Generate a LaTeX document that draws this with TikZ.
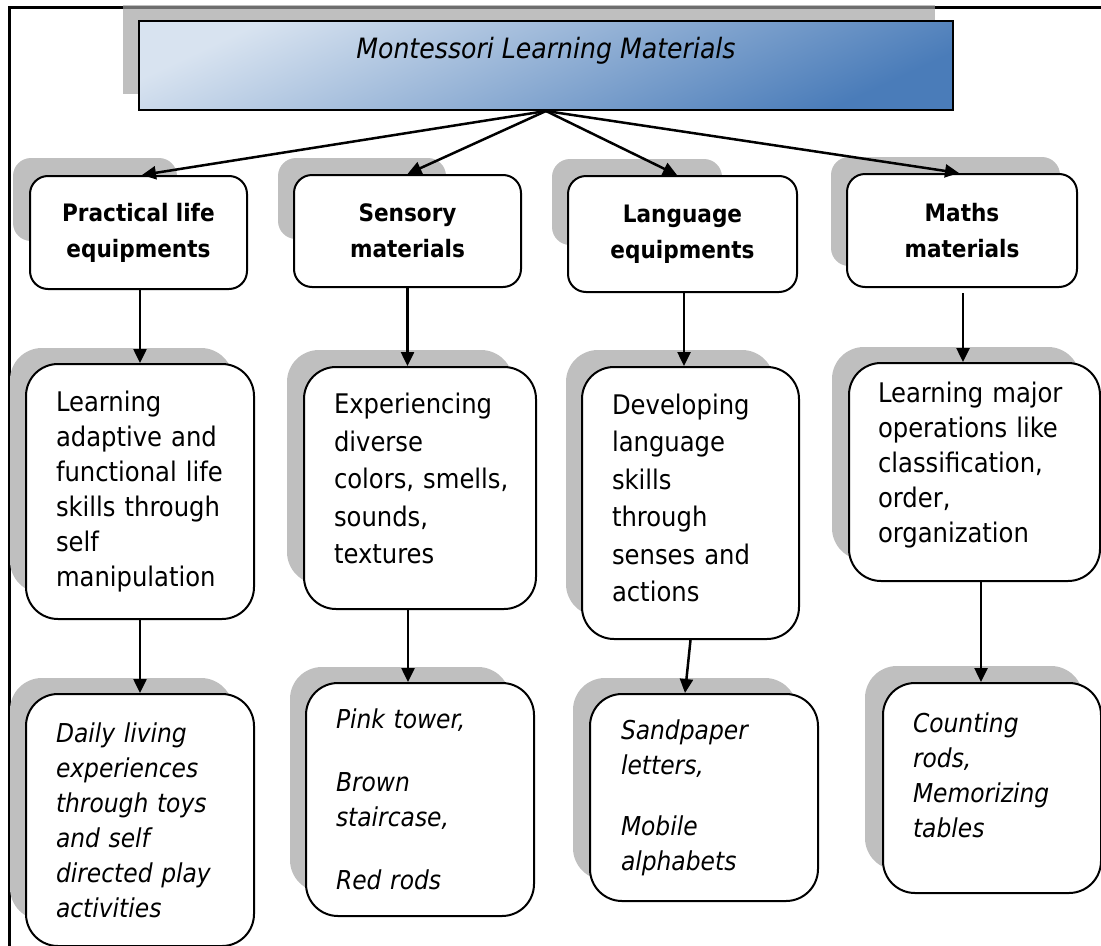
\documentclass[tikz,border=0pt]{standalone}
\usepackage{fontspec}
\setmainfont{DejaVuSansCondensed}[Extension=.ttf, BoldFont=DejaVuSansCondensed-Bold, ItalicFont=DejaVuSansCondensed-Oblique, BoldItalicFont=DejaVuSansCondensed-BoldOblique]
\usetikzlibrary{arrows.meta}
\definecolor{shadowgray}{HTML}{BFBFBF}
\definecolor{framegray}{HTML}{6E6E6E}
\definecolor{titlelight}{HTML}{D8E3F0}
\definecolor{titledark}{HTML}{4A7CB9}
\tikzset{
  shadowbox/.style={fill=shadowgray},
  headbox/.style={draw=black, line width=2bp, fill=white, rounded corners=18bp, anchor=north west,
    align=center, inner sep=0pt, font=\bfseries\fontsize{24bp}{36bp}\selectfont},
  descbox/.style={draw=black, line width=2bp, fill=white, rounded corners=32bp, anchor=north west,
    align=left, inner ysep=0pt, inner xsep=30bp, font=\fontsize{27bp}{35bp}\selectfont},
  exbox/.style={descbox, font=\itshape\fontsize{26bp}{35bp}\selectfont},
  titlebox/.style={draw=black, line width=2bp, anchor=north west, inner sep=0pt,
    top color=titlelight, bottom color=titledark, shading angle=25,
    text height=21bp, text depth=36bp,
    font=\itshape\fontsize{28bp}{30bp}\selectfont},
  arr/.style={line width=2.5bp, -{Triangle[length=14bp,width=13bp]}},
  framestroke/.style={line width=3.5bp},
}
\begin{document}
\begin{tikzpicture}[x=1bp, y=-1bp]
\useasboundingbox (0,0) rectangle (1101,946);
% frame
\draw[framestroke] (9.5,946) -- (9.5,7.5) -- (1101,7.5);
% title
\fill[shadowbox] (123,5) rectangle (935,94);
\draw[framestroke, framegray] (123,7.5) -- (935,7.5);
\node[titlebox, minimum width=814bp, minimum height=89bp] (T) at (138,20) {Montessori Learning Materials};
% header shadows
\fill[shadowbox, rounded corners=18bp] (13,158) rectangle (177,241);
\fill[shadowbox, rounded corners=18bp] (278,158) rectangle (446,239);
\fill[shadowbox, rounded corners=18bp] (552,159) rectangle (722,245);
\fill[shadowbox, rounded corners=18bp] (831,157) rectangle (1060,266);
% headers
\node[headbox, minimum width=217bp, minimum height=113bp] (H1) at (29,175) {Practical life\\equipments};
\node[headbox, minimum width=227bp, minimum height=112bp] (H2) at (293,174) {Sensory\\materials};
\node[headbox, minimum width=229bp, minimum height=116bp] (H3) at (567,175) {Language\\equipments};
\node[headbox, minimum width=230bp, minimum height=113bp] (H4) at (846,173) {Maths\\materials};
% level 2 shadows
\fill[shadowbox, rounded corners=32bp] (10,348) rectangle (233,593);
\fill[shadowbox, rounded corners=32bp] (287,350) rectangle (513,584);
\fill[shadowbox, rounded corners=32bp] (566,350) rectangle (774,616);
\fill[shadowbox, rounded corners=32bp] (832,347) rectangle (1080,560);
% level 2
\node[descbox, text width=168bp, minimum height=255bp] (D1) at (25,363)
  {Learning\\adaptive~and\\functional~life\\skills~through\\self\\manipulation};
\node[descbox, text width=172bp, minimum height=242bp, font=\fontsize{27bp}{37.5bp}\selectfont] (D2) at (303,366)
  {Experiencing\\diverse\\colors,~smells,\\sounds,\\textures\\[-18bp]\mbox{}};
\node[descbox, text width=157bp, minimum height=272bp, font=\fontsize{27bp}{37.5bp}\selectfont] (D3) at (581,366)
  {Developing\\language\\skills\\through\\senses~and\\actions\\[-27bp]\mbox{}};
\node[descbox, inner xsep=29bp, text width=193bp, minimum height=218bp] (D4) at (848,362)
  {Learning~major\\operations~like\\classification,\\order,\\organization\\[-16bp]\mbox{}};
% level 3 shadows
\fill[shadowbox, rounded corners=32bp] (10,678) rectangle (233,920);
\fill[shadowbox, rounded corners=32bp] (290,667) rectangle (510,892);
\fill[shadowbox, rounded corners=32bp] (573,678) rectangle (797,880);
\fill[shadowbox, rounded corners=32bp] (865,666) rectangle (1083,870);
% level 3
\node[exbox, text width=168bp, minimum height=252bp] (E1) at (25,693)
  {Daily~living\\experiences\\through~toys\\and~self\\directed~play\\activities};
\node[exbox, text width=168bp, minimum height=233bp] (E2) at (305,682)
  {Pink~tower,\\[28bp]Brown\\staircase,\\[28bp]Red~rods};
\node[exbox, inner xsep=31bp, text width=166bp, minimum height=207bp] (E3) at (589,693)
  {Sandpaper\\letters,\\[26bp]Mobile\\alphabets};
\node[exbox, text width=158bp, minimum height=210bp] (E4) at (882,682)
  {Counting\\rods,\\Memorizing\\tables\\[-10bp]\mbox{}};
% connectors
\draw[arr] (T.south) -- ([xshift=3.5bp]H1.north);
\draw[arr] (T.south) -- (H2.north);
\draw[arr] (T.south) -- ([xshift=-5.5bp]H3.north);
\draw[arr] (T.south) -- ([xshift=-3bp]H4.north);
\draw[arr] ([xshift=1.5bp]H1.south) -- ([xshift=1.5bp]H1.south |- D1.north);
\draw[arr] (H2.south) -- (H2.south |- D2.north);
\draw[arr] ([xshift=1.5bp]H3.south) -- ([xshift=1.5bp]H3.south |- D3.north);
\coordinate (h4start) at ([xshift=1bp, yshift=-5bp]H4.south);
\draw[arr] (h4start) -- (h4start |- D4.north);
\draw[arr] (D1.south) -- (D1.south |- E1.north);
\coordinate (d2start) at ([xshift=-12bp]D2.south);
\draw[arr] (d2start) -- (d2start |- E2.north);
\draw[arr] (D3.south) -- ([xshift=-19bp]E3.north);
\coordinate (d4start) at ([xshift=6.5bp]D4.south);
\draw[arr] (d4start) -- (d4start |- E4.north);
\end{tikzpicture}
\end{document}
